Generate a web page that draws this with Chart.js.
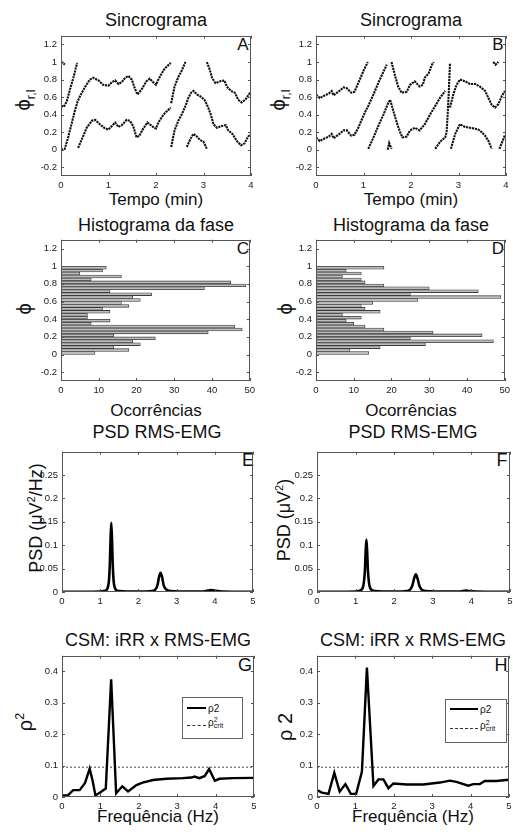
<!DOCTYPE html>
<html>
<head>
<meta charset="utf-8">
<script src="https://cdn.jsdelivr.net/npm/chart.js@4.4.1/dist/chart.umd.min.js"></script>
<style>
  body { margin: 0; background: #fff; }
  #fig { position: relative; width: 513px; height: 832px; overflow: hidden;
         font-family: "Liberation Sans", Arial, sans-serif; color: #111; }
  #fig canvas { position: absolute; }
  .t { position: absolute; white-space: nowrap; line-height: 1; transform: translate(-50%, -50%); }
  .t.rot { transform: translate(-50%, -50%) rotate(-90deg); }
  .t sup, .t sub { font-size: 0.62em; line-height: 0; }
  .title { font-size: 18px; }
  .xlab { font-size: 17px; }
  .ylab { font-size: 18px; }
  .letter { font-size: 17px; }
  .legend { position: absolute; border: 1px solid #666; background: #fff; }
  .legend .ln { position: absolute; height: 0; }
  .legend .tx { position: absolute; font-size: 10px; line-height: 1; white-space: nowrap; }
  .ss { display: inline-flex; flex-direction: column; vertical-align: middle; font-size: 0.72em; line-height: 0.85; }
</style>
</head>
<body>
<div id="fig">
  <div class="t title" style="left:156px;top:20px">Sincrograma</div>
  <div class="t title" style="left:411px;top:20px">Sincrograma</div>
  <div class="t xlab" style="left:156px;top:199px">Tempo (min)</div>
  <div class="t xlab" style="left:411px;top:199px">Tempo (min)</div>
  <div class="t title" style="left:156px;top:225px">Histograma da fase</div>
  <div class="t title" style="left:411px;top:225px">Histograma da fase</div>
  <div class="t xlab" style="left:156px;top:410px">Ocorrências</div>
  <div class="t xlab" style="left:411px;top:410px">Ocorrências</div>
  <div class="t title" style="left:157px;top:432px">PSD RMS-EMG</div>
  <div class="t title" style="left:413px;top:432px">PSD RMS-EMG</div>
  <div class="t title" style="left:158px;top:640px">CSM: iRR x RMS-EMG</div>
  <div class="t title" style="left:413px;top:640px">CSM: iRR x RMS-EMG</div>
  <div class="t xlab" style="left:158px;top:816px">Frequência (Hz)</div>
  <div class="t xlab" style="left:413px;top:816px">Frequência (Hz)</div>

  <div class="t ylab rot" style="left:23px;top:100px;font-size:20px">ϕ<sub>r,l</sub></div>
  <div class="t ylab rot" style="left:278px;top:100px;font-size:20px">ϕ<sub>r,l</sub></div>
  <div class="t ylab rot" style="left:24px;top:309px;font-size:20px">ϕ</div>
  <div class="t ylab rot" style="left:285px;top:309px;font-size:20px">ϕ</div>
  <div class="t ylab rot" style="left:36px;top:518px">PSD (μV<sup>2</sup>/Hz)</div>
  <div class="t ylab rot" style="left:284px;top:520px">PSD (μV<sup>2</sup>)</div>
  <div class="t ylab rot" style="left:25px;top:722px;font-size:20px">ρ<sup>2</sup></div>
  <div class="t ylab rot" style="left:285px;top:727px;font-size:20px">ρ 2</div>

  <div class="t letter" style="left:243px;top:44px">A</div>
  <div class="t letter" style="left:498px;top:44px">B</div>
  <div class="t letter" style="left:243px;top:248px">C</div>
  <div class="t letter" style="left:498px;top:248px">D</div>
  <div class="t letter" style="left:248px;top:460px;font-size:18px">E</div>
  <div class="t letter" style="left:502px;top:460px;font-size:18px">F</div>
  <div class="t letter" style="left:245px;top:665px;font-size:18px">G</div>
  <div class="t letter" style="left:501px;top:665px;font-size:18px">H</div>
</div>

<script>
// sincrograma A (tempo em min, fase); null separa os trechos
var syncA_t = [
  0, 0.04, 0.08, null,
  0, 0.06, 0.12, 0.19, 0.26, 0.34, null,
  0, 0.08, 0.15, 0.22, 0.29, 0.35, 0.4, 0.51, 0.61, 0.68, 0.79, 0.89, 1.0, 1.07, 1.14, 1.21, 1.28, 1.35, 1.42, 1.49,
  1.56, 1.61, 1.7, 1.8, 1.87, 1.94, 2.0, 2.05, 2.12, 2.19, 2.27, 2.31, null,
  0.36, 0.44, 0.54, 0.65, 0.72, 0.82, 0.93, 1.0, 1.07, 1.14, 1.21, 1.28, 1.38, 1.45, 1.52, 1.59, 1.65, 1.73, 1.82, 1.89,
  1.96, 2.0, 2.05, 2.12, 2.19, 2.27, 2.31, null,
  2.32, 2.39, 2.47, 2.54, 2.62, null,
  2.32, 2.39, 2.47, 2.54, 2.62, 2.68, 2.74, 2.79, 2.86, 2.93, 3.02, 3.1, 3.16, 3.21, 3.28, 3.38, 3.47, 3.52, 3.61, 3.7,
  3.79, 3.86, 3.94, 4.0, null,
  2.65, 2.72, 2.79, 2.86, 2.93, 3.0, 3.07, null,
  3.07, 3.12, 3.18, 3.25, 3.35, 3.44, 3.49, 3.58, 3.66, 3.73, 3.8, 3.88, 3.98, 4.0
];
var syncA_phi = [
  1.0, 0.99, 0.97, null,
  0.5, 0.49, 0.55, 0.69, 0.82, 0.99, null,
  0.0, 0.01, 0.14, 0.29, 0.44, 0.55, 0.61, 0.72, 0.8, 0.82, 0.79, 0.74, 0.73, 0.77, 0.79, 0.75, 0.77, 0.82, 0.84, 0.8,
  0.69, 0.63, 0.69, 0.78, 0.81, 0.77, 0.74, 0.8, 0.87, 0.93, 0.97, 0.99, null,
  0.02, 0.12, 0.25, 0.33, 0.34, 0.29, 0.24, 0.23, 0.27, 0.31, 0.26, 0.28, 0.34, 0.33, 0.27, 0.14, 0.16, 0.24, 0.31, 0.28,
  0.25, 0.24, 0.31, 0.37, 0.42, 0.46, 0.48, null,
  0.53, 0.72, 0.83, 0.9, 1.0, null,
  0.03, 0.22, 0.33, 0.4, 0.5, 0.59, 0.65, 0.67, 0.63, 0.61, 0.57, 0.48, 0.39, 0.29, 0.25, 0.27, 0.28, 0.22, 0.18, 0.1,
  0.05, 0.07, 0.15, 0.18, null,
  0.03, 0.12, 0.18, 0.15, 0.11, 0.09, 0.01, null,
  1.0, 0.93, 0.82, 0.76, 0.78, 0.79, 0.72, 0.67, 0.65, 0.57, 0.54, 0.57, 0.65, 0.66
];

// sincrograma B
var syncB_t = [
  0, 0.08, 0.19, 0.27, 0.33, 0.37, 0.47, 0.58, 0.65, 0.74, 0.81, 0.89, 1.0, 1.09, null,
  0, 0.08, 0.19, 0.27, 0.33, 0.37, 0.47, 0.58, 0.65, 0.74, 0.81, 0.89, 1.0, 1.1, 1.21, 1.31, 1.42, 1.49, null,
  1.1, 1.21, 1.31, 1.42, 1.51, 1.56, 1.63, 1.7, 1.77, 1.82, 1.91, 1.98, 2.08, 2.18, 2.29, 2.4, 2.51, 2.61, 2.72, null,
  1.51, 1.54, 1.59, null,
  1.59, 1.66, 1.73, 1.8, 1.91, 1.98, 2.08, 2.18, 2.25, 2.29, 2.37, 2.44, 2.48, null,
  2.51, 2.61, 2.72, 2.75, 2.79, 2.82, null,
  2.82, 2.89, 2.96, 3.03, 3.14, 3.24, 3.35, 3.45, 3.56, 3.63, 3.7, 3.77, 3.84, 3.91, 3.98, null,
  2.84, 2.93, 3.03, 3.14, 3.24, 3.35, 3.45, 3.56, 3.63, 3.7, null,
  3.73, 3.78, 3.84, null,
  3.86, 3.93, 3.98
];
var syncB_phi = [
  0.63, 0.59, 0.62, 0.64, 0.67, 0.62, 0.66, 0.71, 0.7, 0.65, 0.66, 0.76, 0.9, 1.0, null,
  0.14, 0.1, 0.13, 0.15, 0.18, 0.13, 0.17, 0.22, 0.22, 0.16, 0.17, 0.25, 0.39, 0.5, 0.63, 0.76, 0.89, 0.97, null,
  0.01, 0.14, 0.27, 0.4, 0.52, 0.57, 0.44, 0.31, 0.2, 0.14, 0.15, 0.22, 0.25, 0.22, 0.29, 0.4, 0.5, 0.59, 0.67, null,
  0.0, 0.075, 0.01, null,
  1.0, 0.85, 0.72, 0.65, 0.66, 0.74, 0.78, 0.72, 0.74, 0.82, 0.87, 0.97, 1.0, null,
  0.01, 0.09, 0.14, 0.2, 0.59, 0.98, null,
  0.48, 0.63, 0.74, 0.8, 0.78, 0.75, 0.75, 0.72, 0.67, 0.59, 0.51, 0.48, 0.52, 0.61, 0.67, null,
  0.01, 0.18, 0.29, 0.26, 0.25, 0.24, 0.22, 0.16, 0.1, 0.01, null,
  1.0, 0.97, 1.0, null,
  0.01, 0.1, 0.17
];

// histogramas da fase (centro do bin, ocorrencias)
var histBins = [0.017, 0.05, 0.083, 0.117, 0.15, 0.183, 0.217, 0.25, 0.283, 0.317, 0.35, 0.383, 0.417, 0.45, 0.483,
                0.517, 0.55, 0.583, 0.617, 0.65, 0.683, 0.717, 0.75, 0.783, 0.817, 0.85, 0.883, 0.917, 0.95, 0.983];
var histC = [9, 18, 14, 21, 19, 25, 14, 39, 48, 46, 8, 13, 7, 7, 13, 11, 18, 16, 21, 19, 24, 13, 38, 49, 45, 8, 16, 5, 11, 12];
var histD = [14, 9, 17, 29, 47, 25, 44, 31, 18, 13, 10, 8, 12, 7, 17, 13, 12, 15, 27, 49, 25, 43, 30, 18, 13, 12, 7, 12, 8, 18];

// PSD RMS-EMG
var psdE_f = [0, 0.5, 1.0, 1.1, 1.16, 1.2, 1.23, 1.25, 1.27, 1.29, 1.31, 1.33, 1.35, 1.38, 1.42, 1.5, 1.7,
              2.2, 2.35, 2.45, 2.5, 2.54, 2.58, 2.62, 2.66, 2.72, 2.85, 3.2, 3.7, 3.82, 3.9, 3.98, 4.2, 5];
var psdE_v = [0.0005, 0.0005, 0.001, 0.002, 0.004, 0.01, 0.025, 0.055, 0.11, 0.148, 0.11, 0.055, 0.025, 0.01, 0.004, 0.002, 0.001,
              0.001, 0.002, 0.006, 0.015, 0.032, 0.041, 0.032, 0.015, 0.006, 0.002, 0.001, 0.001, 0.003, 0.004, 0.003, 0.001, 0.0005];
var psdF_f = [0, 0.5, 1.0, 1.08, 1.14, 1.18, 1.21, 1.24, 1.26, 1.28, 1.30, 1.32, 1.35, 1.38, 1.42, 1.5, 1.7,
              2.2, 2.33, 2.42, 2.47, 2.52, 2.56, 2.60, 2.65, 2.7, 2.82, 3.2, 3.65, 3.78, 3.86, 3.94, 4.1, 5];
var psdF_v = [0.0005, 0.0005, 0.001, 0.002, 0.004, 0.008, 0.018, 0.045, 0.085, 0.112, 0.085, 0.045, 0.018, 0.008, 0.004, 0.002, 0.001,
              0.001, 0.002, 0.006, 0.014, 0.03, 0.038, 0.03, 0.014, 0.006, 0.002, 0.001, 0.001, 0.002, 0.003, 0.002, 0.001, 0.0005];

// CSM iRR x RMS-EMG
var cohG_f = [0, 0.16, 0.29, 0.46, 0.6, 0.72, 0.8, 0.87, 1.0, 1.14, 1.28, 1.41, 1.57, 1.72, 1.94, 2.1, 2.37, 2.72,
              3.15, 3.37, 3.45, 3.58, 3.72, 3.83, 3.98, 4.1, 4.45, 5];
var cohG_v = [0.005, 0.006, 0.022, 0.022, 0.045, 0.09, 0.05, 0.005, 0.015, 0.027, 0.375, 0.012, 0.034, 0.018, 0.038, 0.046, 0.054, 0.058,
              0.06, 0.062, 0.065, 0.06, 0.067, 0.089, 0.052, 0.058, 0.06, 0.061];
var cohH_f = [0, 0.13, 0.3, 0.45, 0.59, 0.74, 0.88, 1.02, 1.17, 1.3, 1.47, 1.6, 1.73, 1.86, 1.99, 2.34, 2.77,
              3.2, 3.46, 3.63, 3.94, 4.07, 4.24, 4.37, 4.67, 5];
var cohH_v = [0.022, 0.014, 0.01, 0.077, 0.017, 0.041, 0.01, 0.01, 0.081, 0.412, 0.035, 0.056, 0.056, 0.028, 0.043, 0.04, 0.04,
              0.046, 0.052, 0.048, 0.036, 0.041, 0.041, 0.051, 0.051, 0.055];
var critG = 0.095;
var critH = 0.095;

// eixos
var phaseTicks = [-0.2, 0, 0.2, 0.4, 0.6, 0.8, 1, 1.2];
var timeTicks = [0, 1, 2, 3, 4];
var countTicks = [0, 10, 20, 30, 40, 50];
var freqTicks = [0, 1, 2, 3, 4, 5];
var psdTicks = [0, 0.05, 0.1, 0.15, 0.2, 0.25];
var cohTicks = [0, 0.1, 0.2, 0.3, 0.4];

Chart.defaults.font.family = '"Liberation Sans", Arial, sans-serif';
Chart.defaults.font.size = 9.5;
Chart.defaults.color = '#1a1a1a';

var PL = 44, PT = 8, PR = 8, PB = 16;

function toSegments(xs, ys) {
    var segs = [], cur = [];
    xs.forEach(function (x, i) {
        if (x === null) {
            if (cur.length) segs.push(cur);
            cur = [];
        } else {
            cur.push({ x: x, y: ys[i] });
        }
    });
    if (cur.length) segs.push(cur);
    return segs;
}

function pairs(xs, ys) {
    return xs.map(function (x, i) { return { x: x, y: ys[i] }; });
}

// caixa estilo matlab com ticks para dentro
var frame = {
    id: 'frame',
    afterDraw: function (chart) {
        var a = chart.chartArea, ctx = chart.ctx;
        var sx = chart.scales.x, sy = chart.scales.y;
        ctx.save();
        ctx.strokeStyle = '#555';
        ctx.lineWidth = 1;
        ctx.strokeRect(Math.round(a.left) + 0.5, Math.round(a.top) + 0.5,
                       Math.round(a.right - a.left) - 1, Math.round(a.bottom - a.top) - 1);
        ctx.beginPath();
        sx.ticks.forEach(function (t) {
            var px = Math.round(sx.getPixelForValue(t.value)) + 0.5;
            ctx.moveTo(px, a.bottom); ctx.lineTo(px, a.bottom - 3);
            ctx.moveTo(px, a.top); ctx.lineTo(px, a.top + 3);
        });
        sy.ticks.forEach(function (t) {
            var py = Math.round(sy.getPixelForValue(t.value)) + 0.5;
            ctx.moveTo(a.left, py); ctx.lineTo(a.left + 3, py);
            ctx.moveTo(a.right, py); ctx.lineTo(a.right - 3, py);
        });
        ctx.stroke();
        ctx.restore();
    }
};

function axis(min, max, ticks, dir) {
    return {
        type: 'linear',
        min: min,
        max: max,
        offset: false,
        grid: { display: false, drawTicks: false },
        border: { display: false },
        ticks: {
            autoSkip: false,
            padding: 4,
            maxRotation: 0,
            callback: function (v) { return String(+(+v).toFixed(2)); }
        },
        afterBuildTicks: function (s) {
            s.ticks = ticks.map(function (v) { return { value: v }; });
        },
        afterFit: function (s) {
            if (dir === 'x') s.height = PB; else s.width = PL;
        }
    };
}

function panel(box, type, datasets, xAxis, yAxis, indexAxis) {
    var cv = document.createElement('canvas');
    var w = box.r - box.l + PL + PR, h = box.b - box.t + PT + PB;
    cv.width = w;
    cv.height = h;
    cv.style.left = (box.l - PL) + 'px';
    cv.style.top = (box.t - PT) + 'px';
    cv.style.width = w + 'px';
    cv.style.height = h + 'px';
    document.getElementById('fig').appendChild(cv);
    return new Chart(cv.getContext('2d'), {
        type: type,
        data: { datasets: datasets },
        plugins: [frame],
        options: {
            responsive: false,
            animation: false,
            indexAxis: indexAxis || 'x',
            layout: { padding: { left: 0, top: PT, right: PR, bottom: 0 } },
            plugins: { legend: { display: false }, tooltip: { enabled: false } },
            scales: { x: xAxis, y: yAxis }
        }
    });
}

function syncSets(xs, ys) {
    return toSegments(xs, ys).map(function (seg) {
        return {
            data: seg,
            showLine: true,
            borderColor: '#111',
            borderWidth: 2.1,
            borderDash: [2.2, 0.8],
            pointRadius: 0,
            tension: 0
        };
    });
}

function histSet(counts) {
    return [{
        data: histBins.map(function (c, i) { return { x: counts[i], y: c }; }),
        backgroundColor: '#bdbdbd',
        borderColor: '#3a3a3a',
        borderWidth: 0.8,
        barThickness: 2.8
    }];
}

function psdSet(f, v) {
    return [{
        data: pairs(f, v),
        showLine: true,
        borderColor: '#000',
        borderWidth: 2.6,
        pointRadius: 0,
        cubicInterpolationMode: 'monotone'
    }];
}

function cohSets(f, v, crit) {
    return [{
        data: pairs(f, v),
        showLine: true,
        borderColor: '#000',
        borderWidth: 2.4,
        pointRadius: 0,
        tension: 0
    }, {
        data: [{ x: 0, y: crit }, { x: 5, y: crit }],
        showLine: true,
        borderColor: '#333',
        borderWidth: 0.9,
        borderDash: [2, 2],
        pointRadius: 0
    }];
}

panel({ l: 61, t: 34, r: 251, b: 176 }, 'scatter', syncSets(syncA_t, syncA_phi),
      axis(0, 4, timeTicks, 'x'), axis(-0.3, 1.3, phaseTicks, 'y'));
panel({ l: 316, t: 34, r: 506, b: 176 }, 'scatter', syncSets(syncB_t, syncB_phi),
      axis(0, 4, timeTicks, 'x'), axis(-0.3, 1.3, phaseTicks, 'y'));
panel({ l: 61, t: 238, r: 251, b: 381 }, 'bar', histSet(histC),
      axis(0, 50, countTicks, 'x'), axis(-0.3, 1.3, phaseTicks, 'y'), 'y');
panel({ l: 316, t: 238, r: 506, b: 381 }, 'bar', histSet(histD),
      axis(0, 50, countTicks, 'x'), axis(-0.3, 1.3, phaseTicks, 'y'), 'y');
panel({ l: 62, t: 450, r: 253, b: 592 }, 'scatter', psdSet(psdE_f, psdE_v),
      axis(0, 5, freqTicks, 'x'), axis(0, 0.3, psdTicks, 'y'));
panel({ l: 317, t: 450, r: 510, b: 592 }, 'scatter', psdSet(psdF_f, psdF_v),
      axis(0, 5, freqTicks, 'x'), axis(0, 0.3, psdTicks, 'y'));
panel({ l: 62, t: 654, r: 254, b: 797 }, 'scatter', cohSets(cohG_f, cohG_v, critG),
      axis(0, 5, freqTicks, 'x'), axis(0, 0.45, cohTicks, 'y'));
panel({ l: 317, t: 654, r: 509, b: 797 }, 'scatter', cohSets(cohH_f, cohH_v, critH),
      axis(0, 5, freqTicks, 'x'), axis(0, 0.45, cohTicks, 'y'));

// legendas dos paineis G e H
function legend(x, y, w, h, lineW, y1, y2) {
    var d = document.createElement('div');
    d.className = 'legend';
    d.style.left = x + 'px'; d.style.top = y + 'px';
    d.style.width = w + 'px'; d.style.height = h + 'px';
    d.innerHTML =
        '<div class="ln" style="left:4px;top:' + (y1 - 1) + 'px;width:' + lineW + 'px;border-top:2.5px solid #000"></div>' +
        '<div class="tx" style="left:' + (lineW + 6) + 'px;top:' + (y1 - 4) + 'px">ρ2</div>' +
        '<div class="ln" style="left:4px;top:' + y2 + 'px;width:' + lineW + 'px;border-top:1px dashed #333"></div>' +
        '<div class="tx" style="left:' + (lineW + 6) + 'px;top:' + (y2 - 8) + 'px">ρ<span class="ss"><span>2</span><span>crit</span></span></div>';
    document.getElementById('fig').appendChild(d);
}
legend(182, 697, 59, 40, 19, 10, 27);
legend(445, 699, 60, 42, 28, 9, 28);
</script>
</body>
</html>
